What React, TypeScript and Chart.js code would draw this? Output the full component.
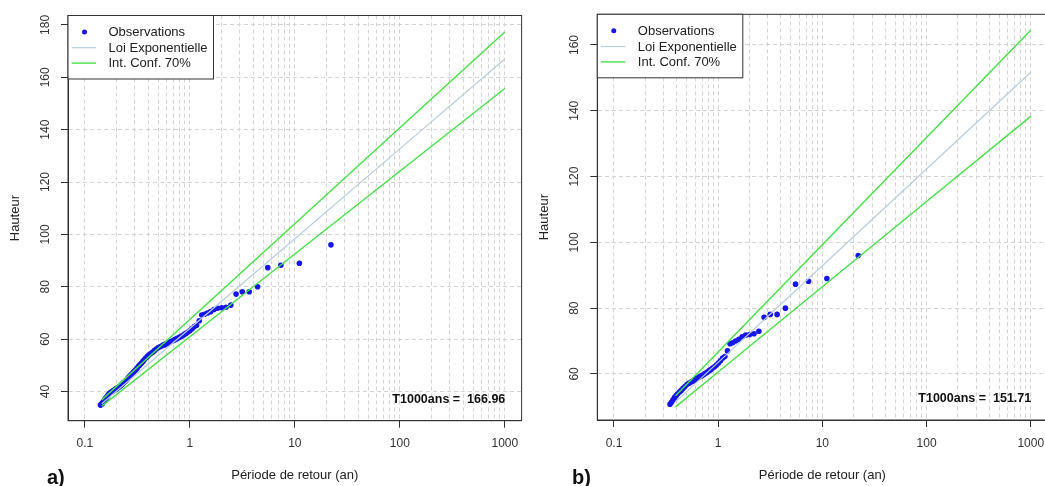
import React, { useEffect, useRef } from "react";
import { Chart, registerables } from "chart.js";

Chart.register(...registerables);

const FONT = "'Liberation Sans', Arial, Helvetica, sans-serif";
Chart.defaults.font.family = FONT;
Chart.defaults.color = "#222";

// ---- Observations (return period in years, height) ----
const obsPeriods: number[] = [
  22.1, 11.05, 7.37, 5.53, 4.42, 3.68, 3.16, 2.76, 2.46, 2.21,
  2.01, 1.84, 1.70, 1.58, 1.47, 1.38, 1.30, 1.23, 1.16, 1.105,
  1.052, 1.005, 0.961, 0.921, 0.884, 0.85, 0.819, 0.789, 0.762, 0.737,
  0.713, 0.691, 0.67, 0.65, 0.631, 0.614, 0.597, 0.582, 0.567, 0.553,
  0.526, 0.502, 0.48, 0.46, 0.442, 0.425, 0.409, 0.395, 0.381, 0.368,
  0.356, 0.345, 0.335, 0.325, 0.316, 0.307, 0.299, 0.291, 0.283, 0.276,
  0.27, 0.263, 0.257, 0.251, 0.246, 0.24, 0.235, 0.23, 0.225, 0.221,
  0.216, 0.212, 0.208, 0.204, 0.201, 0.197, 0.194, 0.19, 0.187, 0.184,
  0.181, 0.178, 0.175, 0.173, 0.17, 0.168, 0.165, 0.163, 0.161, 0.158,
  0.156, 0.154, 0.152, 0.15, 0.148, 0.146, 0.145, 0.143, 0.141,
];
const obsHeights: number[] = [
  96.0, 89.0, 88.2, 87.3, 80.0, 78.1, 78.1, 77.2, 73.0, 72.2,
  72.0, 71.8, 71.3, 70.5, 70.0, 69.5, 69.2, 67.0, 65.3, 64.8,
  64.0, 63.3, 62.7, 62.2, 61.8, 61.3, 61.0, 60.6, 60.3, 60.0,
  59.7, 59.4, 59.2, 59.0, 58.7, 58.5, 58.2, 58.0, 57.8, 57.6,
  57.2, 56.8, 56.2, 55.6, 55.0, 54.5, 54.0, 53.4, 52.8, 52.1,
  51.4, 50.8, 50.2, 49.6, 49.0, 48.4, 47.9, 47.4, 46.9, 46.4,
  46.0, 45.5, 45.0, 44.5, 44.1, 43.7, 43.4, 43.0, 42.7, 42.4,
  42.0, 41.8, 41.5, 41.3, 41.1, 40.9, 40.7, 40.5, 40.3, 40.1,
  39.9, 39.7, 39.5, 39.3, 39.0, 38.7, 38.4, 38.0, 37.7, 37.4,
  37.0, 36.7, 36.3, 36.0, 35.7, 35.4, 35.2, 35.0, 34.8,
];
// panel b keeps only observations above its (higher) threshold
const thresholdPeriodB = 0.34;

// ---- Fitted exponential law and 70% confidence interval ----
const fitPeriodsA = [0.145, 1, 10, 100, 1000];
const centralA = [35.3, 64.06, 98.36, 132.66, 166.96];
const upperA = [36.8, 67.5, 104.1, 140.7, 177.3];
const lowerA = [34.4, 60.9, 92.5, 124.1, 155.7];

const fitPeriodsB = [0.39, 1, 10, 100, 1000];
const centralB = [51.5, 63.5, 92.9, 122.3, 151.71];
const upperB = [53.4, 66.7, 99.3, 131.9, 164.5];
const lowerB = [50.0, 60.6, 86.5, 112.4, 138.3];

// ---- Ticks and labels ----
const xLabelTicks = [0.1, 1, 10, 100, 1000];
const xGridTicks: number[] = [];
for (const d of [0.1, 1, 10, 100]) for (let m = 1; m <= 9; m++) xGridTicks.push(+(m * d).toPrecision(3));
xGridTicks.push(1000);
const yTicksA = [40, 60, 80, 100, 120, 140, 160, 180];
const yTicksB = [60, 80, 100, 120, 140, 160];

const t1000A = "166.96";
const t1000B = "151.71";

const legendLabels = ["Observations", "Loi Exponentielle", "Int. Conf. 70%"];

// ---- Styles ----
const BLUE = "rgb(22,22,235)";
const LIGHTBLUE = "#b9cde0";
const GREEN = "rgb(70,225,70)";
const GRID = "#d4d4d4";
const AXIS = "#333";

interface PanelSpec {
  canvasLeft: number;
  canvasWidth: number;
  area: { l: number; t: number; r: number; b: number };
  yMin: number;
  yMax: number;
  yTicks: number[];
  yTitlePad: number;
  fitPeriods: number[];
  central: number[];
  upper: number[];
  lower: number[];
  minPeriod: number;
  t1000: string;
}

const X_MIN = Math.pow(10, -1.16);
const X_MAX = Math.pow(10, 3.16);

const specA: PanelSpec = {
  canvasLeft: 0,
  canvasWidth: 535,
  area: { l: 68, t: 15.5, r: 521.6, b: 420.7 },
  yMin: 28.85,
  yMax: 183.6,
  yTicks: yTicksA,
  yTitlePad: 7.4,
  fitPeriods: fitPeriodsA,
  central: centralA,
  upper: upperA,
  lower: lowerA,
  minPeriod: 0,
  t1000: t1000A,
};

const specB: PanelSpec = {
  canvasLeft: 525,
  canvasWidth: 535,
  area: { l: 72.3, t: 14.3, r: 522.4, b: 420 },
  yMin: 46.0,
  yMax: 169.33,
  yTicks: yTicksB,
  yTitlePad: 11.2,
  fitPeriods: fitPeriodsB,
  central: centralB,
  upper: upperB,
  lower: lowerB,
  minPeriod: thresholdPeriodB,
  t1000: t1000B,
};

const framePlugin = {
  id: "frame",
  afterDraw(chart: any) {
    const { ctx, chartArea: a } = chart;
    const opts = chart.options.plugins.frame;
    ctx.save();
    // box
    ctx.strokeStyle = AXIS;
    ctx.lineWidth = 1;
    ctx.setLineDash([]);
    ctx.strokeRect(a.left, a.top, a.right - a.left, a.bottom - a.top);

    // legend
    const lx = a.left;
    const ly = a.top;
    const lw = 145.5;
    const lh = 63.5;
    ctx.fillStyle = "#fff";
    ctx.fillRect(lx, ly, lw, lh);
    ctx.strokeRect(lx, ly, lw, lh);
    const rows = [16.5, 32.2, 47.6];
    ctx.font = `13px ${FONT}`;
    ctx.textAlign = "left";
    ctx.textBaseline = "middle";
    // observations symbol
    ctx.fillStyle = BLUE;
    ctx.beginPath();
    ctx.arc(lx + 16.5, ly + rows[0], 2.5, 0, Math.PI * 2);
    ctx.fill();
    // central line symbol
    ctx.strokeStyle = LIGHTBLUE;
    ctx.lineWidth = 1.2;
    ctx.beginPath();
    ctx.moveTo(lx + 3.7, ly + rows[1]);
    ctx.lineTo(lx + 28, ly + rows[1]);
    ctx.stroke();
    // CI symbol
    ctx.strokeStyle = GREEN;
    ctx.lineWidth = 1.4;
    ctx.beginPath();
    ctx.moveTo(lx + 3.7, ly + rows[2]);
    ctx.lineTo(lx + 28, ly + rows[2]);
    ctx.stroke();
    ctx.fillStyle = "#222";
    legendLabels.forEach((t, i) => ctx.fillText(t, lx + 40.5, ly + rows[i] + 0.5));

    // T1000 annotation
    const x1000 = chart.scales.x.getPixelForValue(1000);
    ctx.font = `bold 12.5px ${FONT}`;
    ctx.textAlign = "right";
    ctx.fillStyle = "#111";
    ctx.fillText(`T1000ans =  ${opts.t1000}`, x1000 + 0.5, a.bottom - 21);
    ctx.restore();
  },
};

function Panel({ spec }: { spec: PanelSpec }) {
  const ref = useRef<HTMLCanvasElement>(null);
  useEffect(() => {
    const canvas = ref.current!;
    const obs = obsPeriods
      .map((t, i) => ({ x: t, y: obsHeights[i] }))
      .filter((p) => p.x >= spec.minPeriod);
    const line = (vals: number[]) => spec.fitPeriods.map((t, i) => ({ x: t, y: vals[i] }));
    const chart = new Chart(canvas, {
      type: "scatter",
      data: {
        datasets: [
          {
            label: legendLabels[0],
            data: obs,
            showLine: false,
            pointRadius: 2.8,
            pointBackgroundColor: BLUE,
            pointBorderWidth: 0,
            order: 3,
          } as any,
          {
            label: legendLabels[1],
            data: line(spec.central),
            showLine: true,
            borderColor: LIGHTBLUE,
            borderWidth: 1.2,
            pointRadius: 0,
            order: 1,
          },
          {
            label: legendLabels[2],
            data: line(spec.upper),
            showLine: true,
            borderColor: GREEN,
            borderWidth: 1.4,
            pointRadius: 0,
            order: 2,
          },
          {
            label: legendLabels[2],
            data: line(spec.lower),
            showLine: true,
            borderColor: GREEN,
            borderWidth: 1.4,
            pointRadius: 0,
            order: 2,
          },
        ],
      },
      options: {
        responsive: false,
        animation: false,
        devicePixelRatio: 1,
        events: [],
        layout: {
          padding: { left: 0, top: spec.area.t, right: spec.canvasWidth - spec.area.r, bottom: 0 },
        },
        plugins: {
          legend: { display: false },
          tooltip: { enabled: false },
          frame: { t1000: spec.t1000 },
        } as any,
        scales: {
          x: {
            type: "logarithmic",
            position: "bottom",
            min: X_MIN,
            max: X_MAX,
            bounds: "data",
            afterBuildTicks: (s: any) => {
              s.ticks = xGridTicks.map((v) => ({ value: v }));
            },
            afterFit: (s: any) => {
              s.height = 486 - spec.area.b;
            },
            ticks: {
              autoSkip: false,
              maxRotation: 0,
              minRotation: 0,
              padding: 9,
              font: { size: 12 },
              color: "#333",
              callback: (v: any) => (xLabelTicks.includes(Number(v)) ? String(v) : ""),
            },
            grid: {
              color: GRID,
              lineWidth: 1,
              tickLength: 7,
              tickWidth: 1,
              tickColor: (c: any) => (c.tick && xLabelTicks.includes(c.tick.value) ? AXIS : "rgba(0,0,0,0)"),
            },
            border: { display: true, color: AXIS, width: 1, dash: [4, 3] },
            title: {
              display: true,
              text: "Période de retour (an)",
              font: { size: 13 },
              color: "#222",
              padding: { top: 0, bottom: 2.5 },
            },
          } as any,
          y: {
            type: "linear",
            position: "left",
            min: spec.yMin,
            max: spec.yMax,
            bounds: "data",
            afterBuildTicks: (s: any) => {
              s.ticks = spec.yTicks.map((v) => ({ value: v }));
            },
            afterFit: (s: any) => {
              s.width = spec.area.l;
            },
            ticks: {
              autoSkip: false,
              minRotation: 90,
              maxRotation: 90,
              crossAlign: "center",
              padding: 5.5,
              font: { size: 12 },
              color: "#333",
            },
            grid: { color: GRID, lineWidth: 1, tickLength: 7, tickWidth: 1, tickColor: AXIS },
            border: { display: true, color: AXIS, width: 1, dash: [4, 3] },
            title: {
              display: true,
              text: "Hauteur",
              font: { size: 13 },
              color: "#222",
              padding: { top: spec.yTitlePad, bottom: 0 },
            },
          } as any,
        },
      },
      plugins: [framePlugin],
    });
    return () => chart.destroy();
  }, [spec]);
  return (
    <canvas
      ref={ref}
      width={spec.canvasWidth}
      height={486}
      style={{ position: "absolute", left: spec.canvasLeft, top: 0, width: spec.canvasWidth, height: 486 }}
    />
  );
}

export default function App() {
  const labelStyle: React.CSSProperties = {
    position: "absolute",
    top: 467,
    font: `bold 20px ${FONT}`,
    lineHeight: "20px",
    color: "#111",
  };
  return (
    <div
      style={{
        position: "fixed",
        left: 0,
        top: 0,
        width: 1045,
        height: 486,
        overflow: "hidden",
        background: "#fff",
      }}
    >
      <Panel spec={specA} />
      <Panel spec={specB} />
      <div style={{ ...labelStyle, left: 47 }}>a)</div>
      <div style={{ ...labelStyle, left: 572 }}>b)</div>
    </div>
  );
}
